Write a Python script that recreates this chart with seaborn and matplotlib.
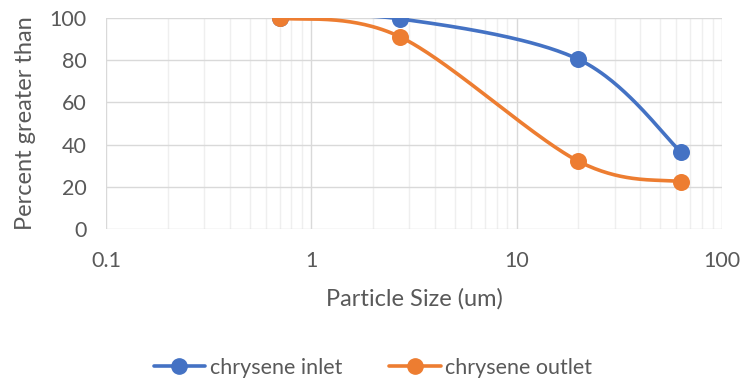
import numpy as np
import pandas as pd
import matplotlib
matplotlib.use("Agg")
import matplotlib.pyplot as plt
from matplotlib.lines import Line2D
from matplotlib.ticker import LogLocator, FixedLocator, NullFormatter
import seaborn as sns

# Particle size distribution data
particle_size = [0.7, 2.7, 20, 63]
inlet = [100, 99.6, 80.4, 36.6]
outlet = [100, 91.1, 32.1, 22.4]
series_names = ["chrysene inlet", "chrysene outlet"]
colors = ["#4472C4", "#ED7D31"]
x_ticks = [0.1, 1, 10, 100]
x_tick_labels = ["0.1", "1", "10", "100"]
y_ticks = [0, 20, 40, 60, 80, 100]


def smooth(xs, ys, n=60):
    """Catmull-Rom smoothing in log10(x) space, like a spreadsheet's smoothed line."""
    lx = np.log10(np.asarray(xs, float))
    yy = np.asarray(ys, float)
    P = np.column_stack([lx, yy])
    P = np.vstack([P[0], P, P[-1]])
    out = []
    t = np.linspace(0, 1, n)[:, None]
    for i in range(1, len(P) - 2):
        p0, p1, p2, p3 = P[i - 1], P[i], P[i + 1], P[i + 2]
        c1 = p1 + (p2 - p0) / 6
        c2 = p2 - (p3 - p1) / 6
        seg = ((1 - t) ** 3) * p1 + 3 * ((1 - t) ** 2) * t * c1 + 3 * (1 - t) * t ** 2 * c2 + t ** 3 * p2
        out.append(seg if i == 1 else seg[1:])
    out = np.vstack(out)
    return 10 ** out[:, 0], out[:, 1]


sns.set_theme(style="white")
plt.rcParams["font.family"] = ["Lato", "DejaVu Sans"]

fig = plt.figure(figsize=(7.46, 3.83), dpi=100)
ax = fig.add_axes([106 / 746, 1 - 229 / 383, (722 - 106) / 746, (229 - 18) / 383])

for name, vals, col in zip(series_names, [inlet, outlet], colors):
    sx, sy = smooth(particle_size, vals)
    curve = pd.DataFrame({"x": sx, "y": sy})
    sns.lineplot(data=curve, x="x", y="y", ax=ax, color=col, lw=2.6, sort=False,
                 estimator=None, zorder=3)
    pts = pd.DataFrame({"x": particle_size, "y": vals})
    sns.scatterplot(data=pts, x="x", y="y", ax=ax, color=col, s=150, edgecolor=col,
                    linewidth=0, zorder=4)

ax.set_xscale("log")
ax.set_xlim(0.1, 100)
ax.set_ylim(0, 100)
ax.xaxis.set_major_locator(FixedLocator(x_ticks))
ax.set_xticklabels(x_tick_labels)
ax.xaxis.set_minor_locator(LogLocator(base=10, subs=np.arange(2, 10)))
ax.xaxis.set_minor_formatter(NullFormatter())
ax.set_yticks(y_ticks)

ax.grid(which="major", axis="both", color="#D9D9D9", lw=1.0, zorder=0)
ax.grid(which="minor", axis="x", color="#EFEFEF", lw=1.0, zorder=0)
for s in ax.spines.values():
    s.set_visible(False)
ax.tick_params(which="both", length=0, labelsize=15.5, colors="#595959", pad=16)
ax.tick_params(axis="y", pad=14)

ax.set_xlabel("Particle Size (um)", fontsize=17, color="#595959", labelpad=12)
ax.set_ylabel("Percent greater than", fontsize=17, color="#595959", labelpad=10)

handles = [Line2D([0], [0], color=c, lw=2.6, marker="o", markersize=11) for c in colors]
fig.legend(handles, series_names, loc="center", bbox_to_anchor=(0.5, 1 - 368 / 383),
           ncol=2, frameon=False, fontsize=15.5, handlelength=2.4, columnspacing=2.2,
           handletextpad=0.2, labelcolor="#595959")

fig.savefig("out.png", dpi=100)
